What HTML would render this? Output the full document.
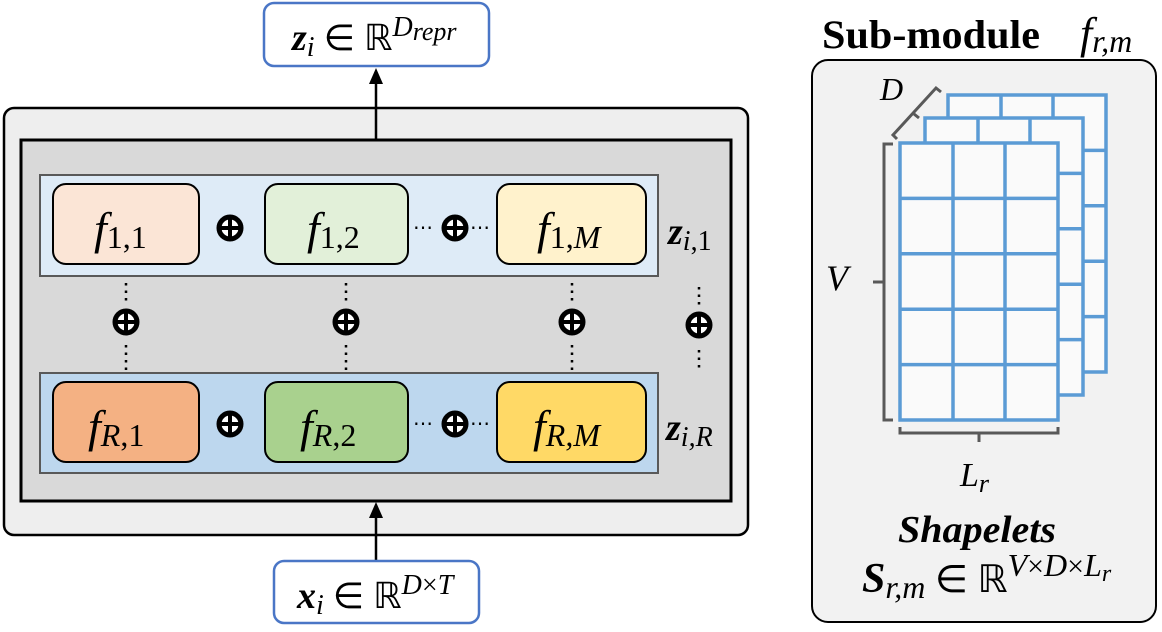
<!DOCTYPE html>
<html><head><meta charset="utf-8"><style>
html,body{margin:0;padding:0;background:#fff;}
svg{display:block;}
text{font-family:"Liberation Serif",serif;}
.m{font-style:italic;}
</style></head><body>
<svg width="1162" height="632" viewBox="0 0 1162 632" xmlns="http://www.w3.org/2000/svg">
<defs>
<g id="grid">
<rect x="0" y="0" width="158" height="277" fill="#fafafa" stroke="#5b9bd5" stroke-width="3.5"/>
<path d="M53 0V277M105 0V277M0 55.4H158M0 110.8H158M0 166.2H158M0 221.6H158" stroke="#5b9bd5" stroke-width="3.5" fill="none"/>
</g>
<g id="op">
<circle cx="0" cy="0" r="11" fill="#fff" stroke="#000" stroke-width="5"/>
<path d="M-11 0H11M0 -11V11" stroke="#000" stroke-width="4"/>
</g>
</defs>

<!-- top output box -->
<rect x="264" y="3" width="225" height="63" rx="10" fill="#fff" stroke="#4a76c6" stroke-width="2.5"/>
<text x="292" y="50" font-size="38"><tspan font-weight="bold" class="m">z</tspan><tspan class="m" font-size="28" dy="6">i</tspan><tspan dy="-6" font-size="36"> ∈ ℝ</tspan><tspan class="m" font-size="28" dy="-14">D</tspan><tspan class="m" font-size="26" dy="4">repr</tspan></text>

<!-- outer box -->
<rect x="4" y="108" width="744" height="427" rx="10" fill="#eeeeee" stroke="#000" stroke-width="2.5"/>
<rect x="21" y="140" width="710" height="361" fill="#d9d9d9" stroke="#000" stroke-width="3"/>

<!-- arrows -->
<line x1="376" y1="140" x2="376" y2="82" stroke="#000" stroke-width="2.5"/>
<polygon points="376,68 369,84 383,84" fill="#000"/>
<line x1="376" y1="560" x2="376" y2="515" stroke="#000" stroke-width="2.5"/>
<polygon points="376,502 369,518 383,518" fill="#000"/>

<!-- row 1 -->
<rect x="40" y="175" width="618" height="101" fill="#deebf7" stroke="#595959" stroke-width="2"/>
<rect x="53" y="184" width="146" height="80" rx="13" fill="#fbe5d6" stroke="#000" stroke-width="2"/>
<rect x="265" y="184" width="143" height="80" rx="13" fill="#e2f0d9" stroke="#000" stroke-width="2"/>
<rect x="497" y="184" width="149" height="80" rx="13" fill="#fff2cc" stroke="#000" stroke-width="2"/>
<text x="94" y="244" font-size="46"><tspan class="m">f</tspan><tspan font-size="32" dy="4">1,1</tspan></text>
<text x="307" y="244" font-size="46"><tspan class="m">f</tspan><tspan font-size="32" dy="4">1,2</tspan></text>
<text x="537" y="244" font-size="46"><tspan class="m">f</tspan><tspan font-size="32" dy="4">1,</tspan><tspan class="m" font-size="32">M</tspan></text>
<use href="#op" x="230" y="228"/>
<use href="#op" x="455" y="228"/>
<text x="413" y="234" font-size="20">⋯</text>
<text x="470" y="234" font-size="20">⋯</text>
<text x="668" y="244" font-size="38"><tspan font-weight="bold" class="m">z</tspan><tspan class="m" font-size="28" dy="6">i</tspan><tspan font-size="28">,1</tspan></text>

<!-- row R -->
<rect x="40" y="373" width="618" height="100" fill="#bdd7ee" stroke="#595959" stroke-width="2"/>
<rect x="53" y="382" width="146" height="80" rx="13" fill="#f4b183" stroke="#000" stroke-width="2"/>
<rect x="265" y="382" width="143" height="80" rx="13" fill="#a9d18e" stroke="#000" stroke-width="2"/>
<rect x="497" y="382" width="149" height="80" rx="13" fill="#ffd966" stroke="#000" stroke-width="2"/>
<text x="88" y="442" font-size="46"><tspan class="m">f</tspan><tspan class="m" font-size="32" dy="4">R</tspan><tspan font-size="32">,1</tspan></text>
<text x="300" y="442" font-size="46"><tspan class="m">f</tspan><tspan class="m" font-size="32" dy="4">R</tspan><tspan font-size="32">,2</tspan></text>
<text x="533" y="442" font-size="46"><tspan class="m">f</tspan><tspan class="m" font-size="32" dy="4">R,M</tspan></text>
<use href="#op" x="230" y="424"/>
<use href="#op" x="455" y="424"/>
<text x="413" y="430" font-size="20">⋯</text>
<text x="470" y="430" font-size="20">⋯</text>
<text x="666" y="440" font-size="38"><tspan font-weight="bold" class="m">z</tspan><tspan class="m" font-size="28" dy="6">i,R</tspan></text>

<!-- vertical ops -->
<g stroke="#000" stroke-width="2.5" stroke-dasharray="2.5,5">
<path d="M126 283V305M126 345V370M346 283V305M346 345V370M572 283V305M572 345V370M699 287V309M699 350V372"/>
</g>
<use href="#op" x="126" y="322"/>
<use href="#op" x="346" y="322"/>
<use href="#op" x="572" y="322"/>
<use href="#op" x="699" y="325"/>

<!-- bottom input box -->
<rect x="274" y="561" width="205" height="62" rx="10" fill="#fff" stroke="#4a76c6" stroke-width="2.5"/>
<text x="297" y="608" font-size="38"><tspan font-weight="bold" class="m">x</tspan><tspan class="m" font-size="28" dy="6">i</tspan><tspan dy="-6" font-size="36"> ∈ ℝ</tspan><tspan class="m" font-size="28" dy="-14">D</tspan><tspan font-size="28">×</tspan><tspan class="m" font-size="28">T</tspan></text>

<!-- sub-module -->
<text x="822" y="48" font-size="40" font-weight="bold" textLength="218" lengthAdjust="spacingAndGlyphs">Sub-module</text>
<text x="1080" y="48" font-size="44"><tspan class="m">f</tspan><tspan class="m" font-size="32" dy="4">r,m</tspan></text>
<rect x="812" y="60" width="344" height="562" rx="16" fill="#f2f2f2" stroke="#000" stroke-width="2"/>

<use href="#grid" x="948" y="95"/>
<use href="#grid" x="925" y="118"/>
<use href="#grid" x="900" y="143"/>

<g stroke="#595959" stroke-width="3" fill="none">
<path d="M897 139L893 135L936 88L941 92"/>
<path d="M914 114L919 118"/>
<path d="M893 144H884V420H893"/>
<path d="M884 282H873"/>
<path d="M900 427V433H1058V427"/>
<path d="M979 433V442"/>
</g>
<text x="880" y="100" font-size="32" class="m">D</text>
<text x="826" y="290" font-size="36" class="m">V</text>
<text x="960" y="486" font-size="34"><tspan class="m">L</tspan><tspan class="m" font-size="26" dy="6">r</tspan></text>
<text x="898" y="542" font-size="38" font-weight="bold" class="m" textLength="158" lengthAdjust="spacingAndGlyphs">Shapelets</text>
<text x="862" y="592" font-size="42"><tspan font-weight="bold" class="m">S</tspan><tspan class="m" font-size="32" dy="6">r,m</tspan><tspan dy="-6" font-size="38"> ∈ ℝ</tspan><tspan class="m" font-size="32" dy="-16">V</tspan><tspan font-size="30">×</tspan><tspan class="m" font-size="32">D</tspan><tspan font-size="30">×</tspan><tspan class="m" font-size="32">L</tspan><tspan class="m" font-size="24" dy="5">r</tspan></text>
</svg>
</body></html>
